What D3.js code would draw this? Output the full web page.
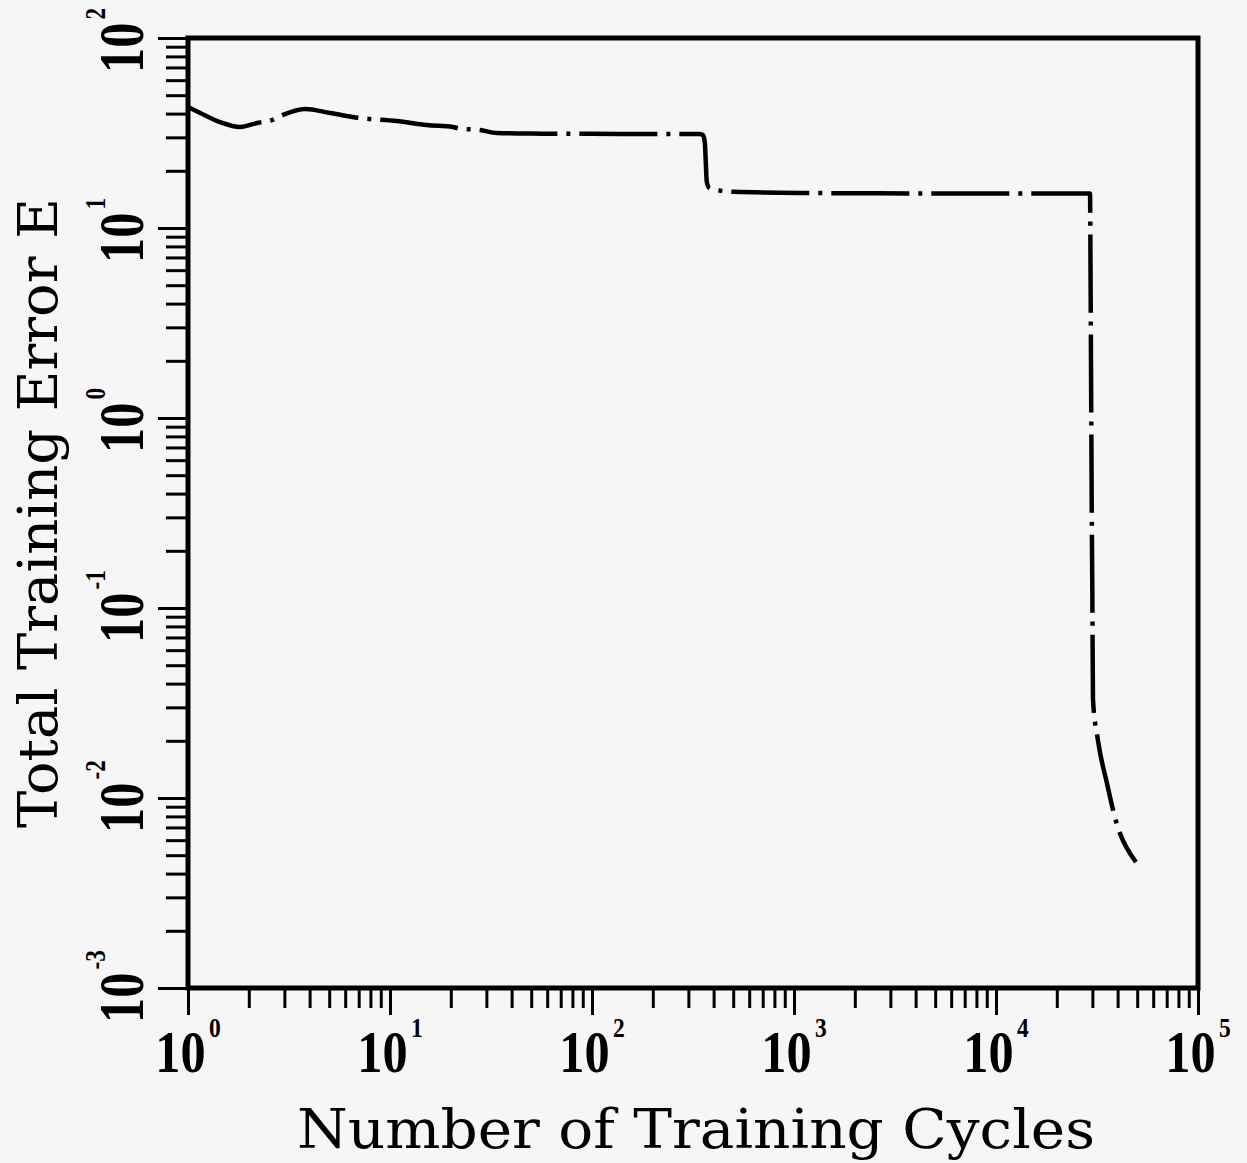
<!DOCTYPE html>
<html>
<head>
<meta charset="utf-8">
<script src="https://cdn.jsdelivr.net/npm/d3@7"></script>
<style>
  html, body { margin: 0; padding: 0; background: #f6f6f6; }
  svg { display: block; }
</style>
</head>
<body>
<div id="chart"></div>
<script>
// training curve
var cycles = [1, 1.15, 1.44, 1.81, 2.2, 2.6, 2.95, 3.8, 5.05, 7.1, 10.8, 15.2, 20.5, 22, 27.9, 33.9,
              50, 100, 200, 340, 355, 362, 366, 370, 380, 420, 500, 1070, 5000,
              29200, 29400, 29600, 29800, 30000, 30200, 32000, 35400, 38800, 49300];
var error  = [43.3, 40.3, 36.1, 34, 35.7, 37, 39.4, 42.3, 40.3, 37.9, 36.6, 34.8, 34, 33.4, 32.8, 31.6,
              31.4, 31.3, 31.2, 31.2, 30.8, 28, 22, 17.5, 16.3, 15.8, 15.5, 15.3, 15.2,
              15.2, 5, 1.2, 0.3, 0.11, 0.033, 0.020, 0.012, 0.0079, 0.0046];

var xDecades = [0, 1, 2, 3, 4, 5];
var yDecades = [-3, -2, -1, 0, 1, 2];
var xLabel = 'Number of Training Cycles';
var yLabel = 'Total Training Error E';

var W = 1247, H = 1163;

var svg = d3.select('#chart').append('svg')
    .attr('width', W).attr('height', H);

svg.append('rect').attr('width', W).attr('height', H).attr('fill', '#f6f6f6');

var x = d3.scaleLog().domain([1, 1e5]).range([188, 1198]);
var y = d3.scaleLog().domain([1e-3, 1e2]).range([988, 38]);

function minors(decades) {
    var out = [];
    decades.slice(0, -1).forEach(function (d) {
        for (var k = 2; k <= 9; k++) { out.push(k * Math.pow(10, d)); }
    });
    return out;
}
var xMajor = xDecades.map(function (d) { return Math.pow(10, d); });
var yMajor = yDecades.map(function (d) { return Math.pow(10, d); });

function tickAxis(axis, g) {
    g.call(axis);
    g.select('.domain').remove();
    g.selectAll('.tick line').attr('stroke', '#000').attr('stroke-width', 3);
    g.selectAll('.tick text').remove();
}

// y ticks
tickAxis(d3.axisLeft(y).tickValues(yMajor).tickSize(28).tickFormat(''),
    svg.append('g').attr('transform', 'translate(186,0)'));
tickAxis(d3.axisLeft(y).tickValues(minors(yDecades)).tickSize(20).tickFormat(''),
    svg.append('g').attr('transform', 'translate(186,0)'));

// x ticks
tickAxis(d3.axisBottom(x).tickValues(xMajor).tickSize(27).tickFormat(''),
    svg.append('g').attr('transform', 'translate(0,988)'));
tickAxis(d3.axisBottom(x).tickValues(minors(xDecades)).tickSize(20).tickFormat(''),
    svg.append('g').attr('transform', 'translate(0,988)'));

// frame
svg.append('rect')
    .attr('x', x(1)).attr('y', y(1e2))
    .attr('width', x(1e5) - x(1)).attr('height', y(1e-3) - y(1e2))
    .attr('fill', 'none').attr('stroke', '#000').attr('stroke-width', 5);

// tick labels
var labFont = '"Liberation Serif", "Times New Roman", serif';

xDecades.forEach(function (d) {
    var t = svg.append('text')
        .attr('transform', 'translate(' + x(Math.pow(10, d)) + ',1072) scale(0.84,1)')
        .attr('text-anchor', 'middle')
        .attr('font-family', labFont).attr('font-weight', 'bold')
        .attr('font-size', 60).attr('fill', '#000');
    t.append('tspan').text('10');
    t.append('tspan').attr('dx', 4).attr('dy', -35).attr('font-size', 28).text(d);
});

yDecades.forEach(function (d) {
    var t = svg.append('text')
        .attr('transform', 'translate(143,' + (y(Math.pow(10, d)) + 35) + ') rotate(-90) scale(0.8,1)')
        .attr('text-anchor', 'start')
        .attr('font-family', labFont).attr('font-weight', 'bold')
        .attr('font-size', 63).attr('fill', '#000');
    t.append('tspan').text('10');
    t.append('tspan').attr('dx', 4).attr('dy', -38).attr('font-size', 29).text(d);
});

// axis titles
var titleFont = '"DejaVu Serif", serif';
svg.append('text')
    .attr('x', 696).attr('y', 1148)
    .attr('text-anchor', 'middle')
    .attr('font-family', titleFont).attr('font-size', 54)
    .attr('textLength', 798).attr('lengthAdjust', 'spacingAndGlyphs')
    .attr('fill', '#000')
    .text(xLabel);

svg.append('text')
    .attr('transform', 'translate(57,513) rotate(-90)')
    .attr('text-anchor', 'middle')
    .attr('font-family', titleFont).attr('font-size', 54)
    .attr('textLength', 630).attr('lengthAdjust', 'spacingAndGlyphs')
    .attr('fill', '#000')
    .text(yLabel);

// the curve, dash-dot
var line = d3.line()
    .x(function (d, i) { return x(cycles[i]); })
    .y(function (d, i) { return y(error[i]); })
    .curve(d3.curveMonotoneX);

svg.append('path')
    .datum(cycles)
    .attr('d', line)
    .attr('fill', 'none')
    .attr('stroke', '#000')
    .attr('stroke-width', 4.5)
    .attr('stroke-dasharray', '78,9,4,9');
</script>
</body>
</html>
